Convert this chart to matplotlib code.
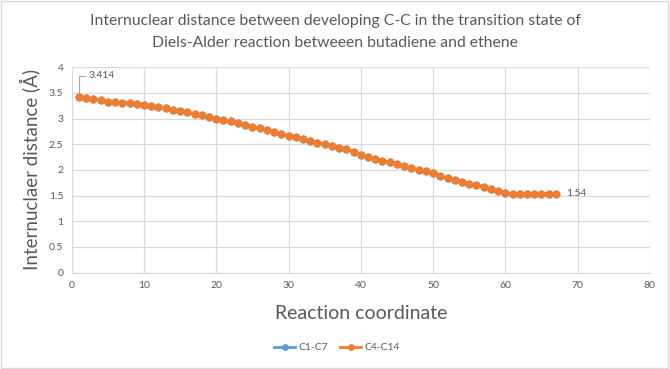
import matplotlib
matplotlib.use('Agg')
import matplotlib.pyplot as plt
from matplotlib.patches import Rectangle

# ── Data ───────────────────────────────────────────────────────────────
reaction_coord = list(range(1, 68))
distance = [3.414, 3.40, 3.38, 3.355, 3.33, 3.315, 3.31, 3.30, 3.285, 3.26,
            3.24, 3.22, 3.20, 3.175, 3.15, 3.12, 3.095, 3.07, 3.035, 3.00,
            2.965, 2.945, 2.915, 2.875, 2.845, 2.81, 2.77, 2.74, 2.70, 2.66,
            2.635, 2.605, 2.57, 2.53, 2.50, 2.47, 2.435, 2.40, 2.355, 2.30,
            2.255, 2.22, 2.18, 2.15, 2.11, 2.07, 2.04, 2.005, 1.975, 1.935,
            1.875, 1.835, 1.805, 1.765, 1.735, 1.71, 1.675, 1.635, 1.595, 1.55,
            1.54, 1.54, 1.54, 1.54, 1.54, 1.54, 1.54]
# both bonds form symmetrically, so the two series coincide
c1_c7 = distance
c4_c14 = distance
series_names = ['C1-C7', 'C4-C14']

x_ticks = [0, 10, 20, 30, 40, 50, 60, 70, 80]
y_ticks = [0, 0.5, 1, 1.5, 2, 2.5, 3, 3.5, 4]

# ── Style ──────────────────────────────────────────────────────────────
plt.rcParams['font.family'] = ['Lato', 'DejaVu Sans']
text_grey = '#595959'
grid_grey = '#d9d9d9'
blue = '#5B9BD5'
orange = '#ED7D31'

fig = plt.figure(figsize=(6.7, 3.69), dpi=100)
ax = fig.add_axes([0.107, 0.261, 0.863, 0.557])

ax.plot(reaction_coord, c1_c7, color=blue, lw=2, marker='o', ms=4.8,
        label=series_names[0])
ax.plot(reaction_coord, c4_c14, color=orange, lw=2, marker='o', ms=4.8,
        label=series_names[1])

ax.set_xlim(0, 80)
ax.set_ylim(0, 4)
ax.set_xticks(x_ticks)
ax.set_yticks(y_ticks)
ax.set_yticklabels([f'{v:g}' for v in y_ticks])
ax.tick_params(length=0, labelsize=7.5, colors=text_grey, pad=6)
ax.grid(True, color=grid_grey, lw=0.9)
ax.set_axisbelow(True)
for side in ['top', 'right', 'left']:
    ax.spines[side].set_visible(False)
ax.spines['bottom'].set_color(grid_grey)

ax.set_xlabel('Reaction coordinate', fontsize=14, color=text_grey, labelpad=11)
ax.set_ylabel('Internuclaer distance (Å)', fontsize=13.5, color=text_grey,
              labelpad=6)

# data labels for the first and last points
ax.annotate(f'{c4_c14[0]:.3f}', xy=(reaction_coord[0], c4_c14[0]),
            xytext=(2.4, 3.83), fontsize=7.5, color=text_grey, va='center',
            arrowprops=dict(arrowstyle='-', color='#a6a6a6', lw=0.8,
                            shrinkA=1, shrinkB=4,
                            connectionstyle='angle,angleA=0,angleB=90,rad=0'))
ax.text(reaction_coord[-1] + 1.4, c4_c14[-1], f'{c4_c14[-1]:.2f}',
        fontsize=7.5, color=text_grey, va='center')

fig.suptitle('Internuclear distance between developing C-C in the transition state of\n'
             'Diels-Alder reaction betweeen butadiene and ethene',
             fontsize=11.3, color=text_grey, y=0.962, linespacing=1.7)

fig.legend(loc='lower center', bbox_to_anchor=(0.503, 0.02), ncol=2,
           frameon=False, fontsize=7.5, labelcolor=text_grey,
           handlelength=2.0, handletextpad=0.3, columnspacing=1.2,
           markerscale=0.8)

# light outer border like the spreadsheet chart area
fig.patches.append(Rectangle((0.002, 0.003), 0.995, 0.993, transform=fig.transFigure,
                             fill=False, edgecolor=grid_grey, lw=1))

fig.savefig('out.png', dpi=100)
